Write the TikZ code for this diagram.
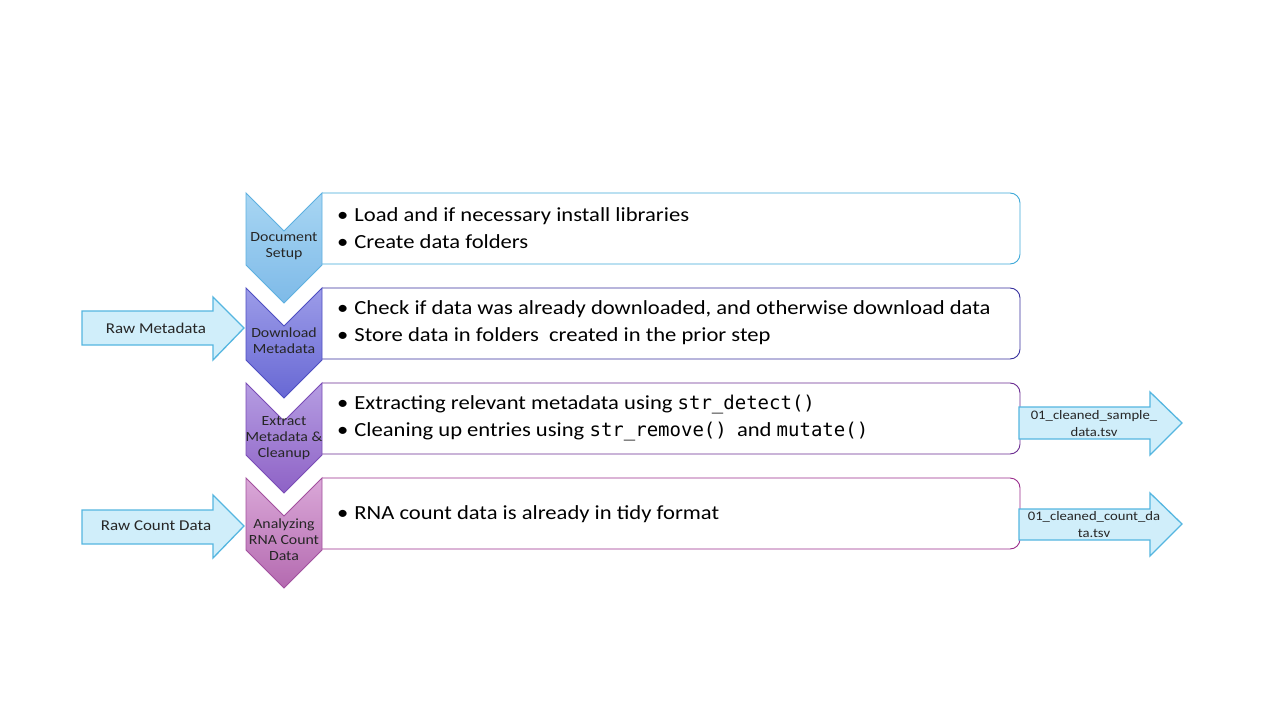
\documentclass[tikz,border=0pt]{standalone}
\usepackage{fontspec}
\setmainfont{Carlito}[FakeStretch=1.13]
\setmonofont{DejaVu Sans Mono}
\begin{document}
\begin{tikzpicture}[x=1pt,y=-1pt,
  boxtxt/.style={font=\fontsize{20}{27}\selectfont, anchor=west, align=left, inner sep=0pt},
  chevtxt/.style={font=\fontsize{14}{16}\selectfont, align=center, text=black!85, inner sep=0pt},
  arrtxt/.style={font=\fontsize{15}{17}\selectfont, align=center, text=black!85, inner sep=0pt},
  outtxt/.style={font=\fontsize{13}{17}\selectfont, align=center, text=black!85, inner sep=0pt},
  flowarrow/.style={fill=arrowfill, draw=arrowline, line width=1.3pt, line join=miter},
]
\newcommand{\code}[1]{{\ttfamily\fontsize{19}{27}\selectfont #1}}
\definecolor{arrowline}{HTML}{55B6E0}
\definecolor{arrowfill}{HTML}{D0EEFA}
\definecolor{cA1}{HTML}{A8D6F3}\definecolor{cA2}{HTML}{7EBAE8}\definecolor{bA}{HTML}{5DB0E0}
\definecolor{cB1}{HTML}{9C9CE8}\definecolor{cB2}{HTML}{6868D4}\definecolor{bB}{HTML}{4E4EC2}
\definecolor{cC1}{HTML}{B59DE2}\definecolor{cC2}{HTML}{8E62C6}\definecolor{bC}{HTML}{7A4CB6}
\definecolor{cD1}{HTML}{DAA8D8}\definecolor{cD2}{HTML}{B46AB0}\definecolor{bD}{HTML}{A2509E}
\definecolor{lA}{HTML}{3EA9D9}
\definecolor{lB}{HTML}{38309E}
\definecolor{lC}{HTML}{6A2C91}
\definecolor{lD}{HTML}{9A2C8C}
\fill[white] (0,0) rectangle (1280,720);
\path[use as bounding box] (0,0) rectangle (1280,720);

% boxes
\foreach \t/\lc in {193/lA, 288/lB, 383/lC, 478/lD}{
  \draw[\lc, line width=0.9pt, fill=white, rounded corners=10pt]
    (322,\t) -- (1020,\t) -- (1020,\t+71) -- (322,\t+71);
}

% chevrons
\foreach \t/\ca/\cb/\bd in {193/cA1/cA2/bA, 288/cB1/cB2/bB, 383/cC1/cC2/bC, 478/cD1/cD2/bD}{
  \draw[\bd, line width=0.9pt, top color=\ca, bottom color=\cb, line join=miter]
    (246,\t) -- (284,\t+38) -- (322,\t) -- (322,\t+72) -- (284,\t+110) -- (246,\t+72) -- cycle;
}

\node[chevtxt] (c1) at (284,246) {Document\\Setup};
\node[chevtxt] (c2) at (284,341) {Download\\Metadata};
\node[chevtxt] (c3) at (284,438) {Extract\\Metadata \&\\Cleanup};
\node[chevtxt] (c4) at (284,540) {Analyzing\\RNA Count\\Data};

% box texts
\node[boxtxt] (t1) at (337,228) {•\hspace{6pt}Load and if necessary install libraries\\•\hspace{6pt}Create data folders};
\node[boxtxt] (t2) at (337,323) {•\hspace{6pt}Check if data was already downloaded, and otherwise download data\\•\hspace{6pt}Store data in folders\ \ created in the prior step};
\node[boxtxt] (t3) at (337,418) {•\hspace{6pt}Extracting relevant metadata using \code{str\_detect()}\\•\hspace{6pt}Cleaning up entries using \code{str\_remove()}\ \ and \code{mutate()}};
\node[boxtxt] (t4) at (337,514) {•\hspace{6pt}RNA count data is already in tidy format};

% input arrows
\draw[flowarrow] (82,311) -- (213,311) -- (213,297) -- (244,328) -- (213,360) -- (213,345) -- (82,345) -- cycle;
\node[arrtxt] (in1) at (156,328) {Raw Metadata};
\draw[flowarrow] (82,510) -- (213,510) -- (213,495) -- (244,526) -- (213,558) -- (213,544) -- (82,544) -- cycle;
\node[arrtxt] (in2) at (156,526) {Raw Count Data};

% output arrows
\draw[flowarrow] (1019,407) -- (1150,407) -- (1150,392) -- (1182,423) -- (1150,455) -- (1150,439) -- (1019,439) -- cycle;
\node[outtxt] (out1) at (1094,424) {01\_cleaned\_sample\_\\data.tsv};
\draw[flowarrow] (1019,509) -- (1150,509) -- (1150,493) -- (1182,524) -- (1150,556) -- (1150,540) -- (1019,540) -- cycle;
\node[outtxt] (out2) at (1094,525) {01\_cleaned\_count\_da\\ta.tsv};
\end{tikzpicture}
\end{document}
